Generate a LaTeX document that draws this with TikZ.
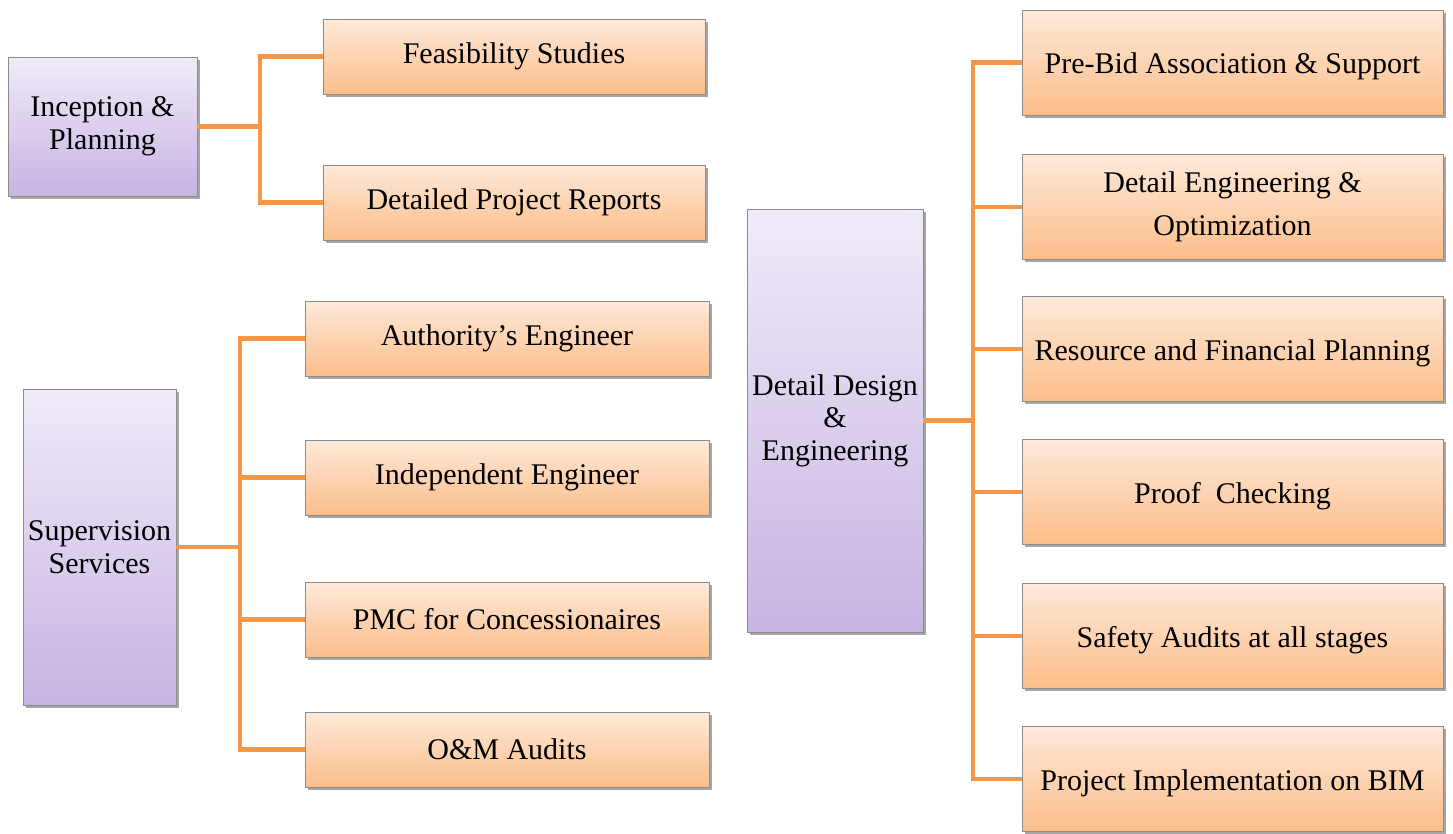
\documentclass[tikz,border=0pt]{standalone}
\usepackage{fontspec}
\setmainfont{Liberation Serif}
\usetikzlibrary{shadows}
\definecolor{lineor}{HTML}{F79646}
\definecolor{ortop}{HTML}{FEE9DA}
\definecolor{orbot}{HTML}{FBBE8A}
\definecolor{putop}{HTML}{F0EBF8}
\definecolor{pubot}{HTML}{C7B4E3}
\tikzset{
  box/.style={draw=black!45, line width=0.8pt, inner sep=0pt, align=center,
    font=\fontsize{30}{32.5}\selectfont,
    drop shadow={shadow xshift=2.5pt, shadow yshift=-2.5pt, opacity=0.35, fill=black}},
  leaf/.style={box, top color=ortop, bottom color=orbot},
  bigleaf/.style={leaf, minimum width=421pt, minimum height=105pt},
  lowtext/.style={text height=29pt, text depth=7pt},
  root/.style={box, top color=putop, bottom color=pubot},
  conn/.style={draw=lineor, line width=4.5pt}
}
\begin{document}
\begin{tikzpicture}[x=1pt,y=-1pt]
\useasboundingbox (0,0) rectangle (1453,833);
% left top group
\node[root, minimum width=189pt, minimum height=139pt] (inc) at (102.5,126.5) {Inception \&\\Planning};
\node[leaf, minimum width=382pt, minimum height=75pt] (fs) at (514,56.5) {Feasibility Studies};
\node[leaf, minimum width=382pt, minimum height=75pt] (dpr) at (514,202.5) {Detailed Project Reports};
\coordinate (jA) at (260,126.5);
% supervision group
\node[root, minimum width=153pt, minimum height=316pt] (sup) at (99.5,547) {Supervision\\Services};
\node[leaf, minimum width=404pt, minimum height=75pt] (ae) at (507,338.5) {Authority’s Engineer};
\node[leaf, minimum width=404pt, minimum height=75pt] (ie) at (507,477.5) {Independent Engineer};
\node[leaf, minimum width=404pt, minimum height=75pt] (pmc) at (507,619.5) {PMC for Concessionaires};
\node[leaf, minimum width=404pt, minimum height=75pt] (om) at (507,749.5) {O\&M Audits};
\coordinate (jB) at (240,547);
% detail design group
\node[root, minimum width=176pt, minimum height=423pt] (dd) at (835,420.5) {Detail Design\\\&\\Engineering};
\node[bigleaf, lowtext] (pb) at (1232.5,62.5) {Pre-Bid Association \& Support};
\node[bigleaf] (de) at (1232.5,207) {Detail Engineering \&\\[10pt]Optimization};
\node[bigleaf, lowtext] (rf) at (1232.5,349) {Resource and Financial Planning};
\node[bigleaf, lowtext] (pc) at (1232.5,492) {Proof\ \ Checking};
\node[bigleaf, lowtext] (sa) at (1232.5,636) {Safety Audits at all stages};
\node[bigleaf, lowtext] (pi) at (1232.5,779) {Project Implementation on BIM};
\coordinate (jC) at (973,420.5);
% connectors
\draw[conn] (inc.east) -- (jA);
\draw[conn] (fs.west) -| (jA);
\draw[conn] (dpr.west) -| (jA);
\draw[conn] (sup.east) -- (jB);
\draw[conn] (ae.west) -| (jB);
\draw[conn] (ie.west) -| (jB);
\draw[conn] (pmc.west) -| (jB);
\draw[conn] (om.west) -| (jB);
\draw[conn] (dd.east) -- (jC);
\draw[conn] (pb.west) -| (jC);
\draw[conn] (de.west) -| (jC);
\draw[conn] (rf.west) -| (jC);
\draw[conn] (pc.west) -| (jC);
\draw[conn] (sa.west) -| (jC);
\draw[conn] (pi.west) -| (jC);
\end{tikzpicture}
\end{document}
